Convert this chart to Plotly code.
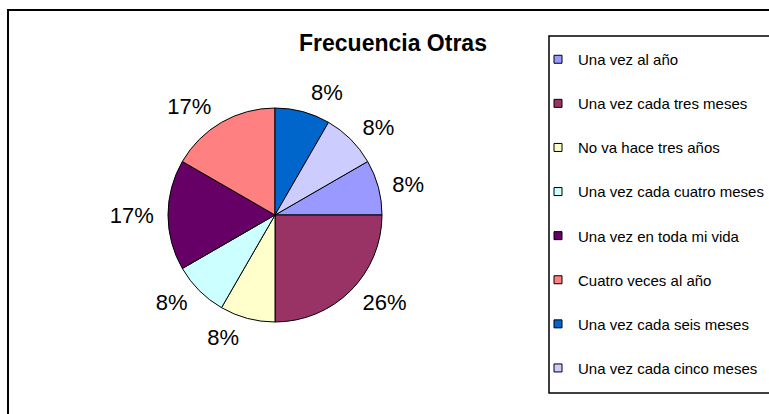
import plotly.graph_objects as go

# ---- data ----
categories = [
    "Una vez al año",
    "Una vez cada tres meses",
    "No va hace tres años",
    "Una vez cada cuatro meses",
    "Una vez en toda mi vida",
    "Cuatro veces al año",
    "Una vez cada seis meses",
    "Una vez cada cinco meses",
]
counts = [1, 3, 1, 1, 2, 2, 1, 1]
pct_labels = ["8%", "26%", "8%", "8%", "17%", "17%", "8%", "8%"]
colors = ["#9999FF", "#993366", "#FFFFCC", "#CCFFFF",
          "#660066", "#FF8080", "#0066CC", "#CCCCFF"]
title_text = "Frecuencia Otras"

W, H = 769, 414
FONT = "Liberation Sans, Arial, sans-serif"


def px_x(v):
    return v / W


def px_y(v):
    return 1 - v / H


cx, cy = 275, 215
r_pie, r_lab = 107, 115

fig = go.Figure()

# percentage labels (transparent pie, slightly larger so labels sit further out)
fig.add_trace(go.Pie(
    labels=categories, values=counts, text=pct_labels,
    textinfo="text", textposition="outside",
    outsidetextfont=dict(family=FONT, size=22, color="black"),
    sort=False, direction="clockwise", rotation=60,
    marker=dict(colors=["rgba(0,0,0,0)"] * len(categories),
                line=dict(width=0)),
    domain=dict(x=[px_x(cx - r_lab), px_x(cx + r_lab)],
                y=[px_y(cy + r_lab), px_y(cy - r_lab)]),
    showlegend=False, hoverinfo="skip",
))

# visible pie
fig.add_trace(go.Pie(
    labels=categories, values=counts,
    textinfo="none",
    sort=False, direction="clockwise", rotation=60,
    marker=dict(colors=colors, line=dict(color="black", width=1)),
    domain=dict(x=[px_x(cx - r_pie), px_x(cx + r_pie)],
                y=[px_y(cy + r_pie), px_y(cy - r_pie)]),
    showlegend=False,
))

# legend entries
for name, col in zip(categories, colors):
    fig.add_trace(go.Scatter(
        x=[None], y=[None], mode="markers", name=name, legendgroup=name,
        marker=dict(symbol="square", size=8, color=col,
                    line=dict(color="black", width=1)),
    ))

fig.update_layout(
    width=W, height=H,
    margin=dict(l=0, r=0, t=0, b=0),
    paper_bgcolor="white", plot_bgcolor="rgba(0,0,0,0)",
    font=dict(family=FONT, color="black"),
    title=dict(text=title_text, x=px_x(393), xanchor="center",
               y=px_y(43), yanchor="middle",
               font=dict(family=FONT, size=23, color="black", weight=700)),
    xaxis=dict(visible=False), yaxis=dict(visible=False),
    legend=dict(x=px_x(538), xanchor="left", y=px_y(43), yanchor="top",
                bgcolor="rgba(0,0,0,0)", borderwidth=0,
                font=dict(family=FONT, size=15, color="black"),
                tracegroupgap=21.6, traceorder="grouped"),
    shapes=[
        dict(type="rect", xref="paper", yref="paper",
             x0=px_x(8), x1=1.05, y0=-0.05, y1=px_y(10),
             line=dict(color="black", width=2), fillcolor="rgba(0,0,0,0)"),
        dict(type="rect", xref="paper", yref="paper",
             x0=px_x(549), x1=1.05, y0=px_y(393), y1=px_y(36),
             line=dict(color="black", width=1.5), fillcolor="rgba(0,0,0,0)"),
    ],
)

fig.write_html(
    "out.html",
    config={"displayModeBar": False},
    post_script="document.body.style.margin='0';document.body.style.overflow='hidden';",
)
